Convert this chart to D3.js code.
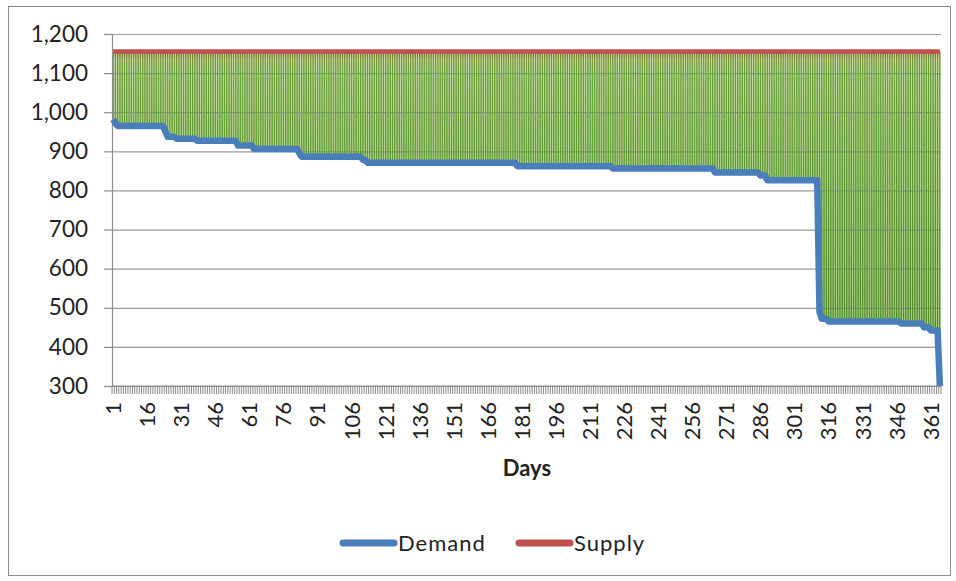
<!DOCTYPE html>
<html>
<head>
<meta charset="utf-8">
<script src="https://cdn.jsdelivr.net/npm/d3@7/dist/d3.min.js"></script>
<style>
  html, body { margin: 0; padding: 0; background: #fff; }
  svg { display: block; }
  text { font-family: Lato, "Open Sans", "Liberation Sans", sans-serif; fill: #222; }
</style>
</head>
<body>
<svg id="chart" width="956" height="581"></svg>
<script>
// Daily demand as a load-duration curve: each level holds for a run of days.
const demandLevels  = [982, 972, 965, 950, 937, 932, 927, 915, 906, 895, 886, 878, 871, 862, 856, 846, 838, 826, 490, 472, 465, 460, 450, 442, 300];
const demandRunDays = [1,   1,   21,  1,   4,   9,   18,  7,   20,  1,   27,  2,   66,  42,  45,  20,  3,   23,  1,   3,   32,  10,  3,   4,   1];
// Supply is flat across the year.
const supplyLevel = 1155;
// Axis labels
const yTicks = [300, 400, 500, 600, 700, 800, 900, 1000, 1100, 1200];
const xTickLabels = [1, 16, 31, 46, 61, 76, 91, 106, 121, 136, 151, 166, 181, 196, 211, 226, 241, 256, 271, 286, 301, 316, 331, 346, 361];
const seriesNames = ["Demand", "Supply"];

// Expand the runs into one value per day
const demand = [];
demandLevels.forEach((v, i) => { for (let k = 0; k < demandRunDays[i]; k++) demand.push(v); });
const days = demand.map((_, i) => i + 1);
const rows = days.map((d, i) => ({ day: d, demand: demand[i], supply: supplyLevel }));

const svg = d3.select("#chart");
const plot = { left: 112, right: 941, top: 34, bottom: 386 };

// chart frame
svg.append("rect").attr("x", 8.5).attr("y", 6.5).attr("width", 942).attr("height", 569)
  .attr("fill", "#fff").attr("stroke", "#8c8c8c").attr("stroke-width", 1);

const x = d3.scaleBand().domain(days).range([plot.left, plot.right]).padding(0);
const cx = d => x(d) + x.bandwidth() / 2;
const y = d3.scaleLinear().domain([300, 1200]).range([plot.bottom, plot.top]);

const defs = svg.append("defs");
const lineGrad = defs.append("linearGradient").attr("id", "hlGrad")
  .attr("gradientUnits", "userSpaceOnUse").attr("x1", 0).attr("x2", 0)
  .attr("y1", y(supplyLevel)).attr("y2", y(300));
[[0, "#6e6a30"], [0.025, "#7a9a3c"], [0.06, "#6aa03a"], [0.4, "#5e9832"], [1, "#4c8a28"]]
  .forEach(([o, c]) => lineGrad.append("stop").attr("offset", o).attr("stop-color", c));
const gapGrad = defs.append("linearGradient").attr("id", "gapGrad")
  .attr("gradientUnits", "userSpaceOnUse").attr("x1", 0).attr("x2", 0)
  .attr("y1", y(supplyLevel)).attr("y2", y(300));
[[0, "#eadcb2"], [0.03, "#d6e8bc"], [0.2, "#c8e0a8"], [1, "#b8d596"]]
  .forEach(([o, c]) => gapGrad.append("stop").attr("offset", o).attr("stop-color", c));

// pale band between the two series
svg.append("path").datum(rows)
  .attr("fill", "url(#gapGrad)")
  .attr("d", d3.area().x(d => cx(d.day)).y0(d => y(d.demand)).y1(d => y(d.supply)));

// horizontal gridlines
svg.append("g")
  .attr("transform", `translate(${plot.left},0)`)
  .call(d3.axisLeft(y).tickValues(yTicks).tickSize(-(plot.right - plot.left)).tickFormat(""))
  .call(g => g.select(".domain").remove())
  .call(g => g.selectAll("line").attr("stroke", "#9a9a9a").attr("stroke-width", 1.2));

// high-low lines from demand up to supply for each day
svg.append("g").selectAll("line").data(rows).join("line")
  .attr("x1", d => cx(d.day)).attr("x2", d => cx(d.day))
  .attr("y1", d => y(d.supply)).attr("y2", d => y(d.demand))
  .attr("stroke", "url(#hlGrad)").attr("stroke-width", 1.45);

// y axis with labels
svg.append("g")
  .attr("transform", `translate(${plot.left},0)`)
  .call(d3.axisLeft(y).tickValues(yTicks).tickSize(8).tickPadding(16).tickFormat(d3.format(",")))
  .call(g => g.select(".domain").attr("stroke", "#8c8c8c").attr("stroke-width", 1.2))
  .call(g => g.selectAll(".tick line").attr("stroke", "#8c8c8c").attr("stroke-width", 1.2))
  .call(g => g.selectAll("text").style("font-size", "22.5px").attr("fill", "#222"));

// x axis line and a tick between every category
svg.append("line").attr("x1", plot.left).attr("x2", plot.right)
  .attr("y1", plot.bottom).attr("y2", plot.bottom).attr("stroke", "#8c8c8c").attr("stroke-width", 1.2);
svg.append("g").selectAll("line").data(days.concat([days.length + 1])).join("line")
  .attr("x1", d => d <= days.length ? x(d) : plot.right)
  .attr("x2", d => d <= days.length ? x(d) : plot.right)
  .attr("y1", plot.bottom).attr("y2", plot.bottom + 8)
  .attr("stroke", "#8c8c8c").attr("stroke-width", 1);

svg.append("g").selectAll("text").data(xTickLabels).join("text")
  .attr("transform", d => `translate(${cx(d)},${plot.bottom + 16}) rotate(-90)`)
  .attr("text-anchor", "end").attr("dy", "0.36em")
  .style("font-size", "22px")
  .text(d => d);

svg.append("text").attr("x", 527).attr("y", 476).attr("text-anchor", "middle")
  .style("font-size", "22px").style("font-weight", "bold").text("Days");

// supply and demand lines
const line = key => d3.line().x(d => cx(d.day)).y(d => y(d[key]));
svg.append("path").datum(rows).attr("fill", "none")
  .attr("stroke", "#c0504d").attr("stroke-width", 4.5).attr("d", line("supply"));
svg.append("path").datum(rows).attr("fill", "none")
  .attr("stroke", "#4a7ebb").attr("stroke-width", 6.5).attr("stroke-linejoin", "round")
  .attr("d", line("demand"));

// legend
const legend = [
  { name: seriesNames[0], color: "#4a7ebb", x: 340 },
  { name: seriesNames[1], color: "#c0504d", x: 516 }
];
const lg = svg.append("g").selectAll("g").data(legend).join("g")
  .attr("transform", d => `translate(${d.x},543)`);
lg.append("line").attr("x1", 3).attr("x2", 54).attr("y1", 0).attr("y2", 0)
  .attr("stroke", d => d.color).attr("stroke-width", 7).attr("stroke-linecap", "round");
lg.append("text").attr("x", 58).attr("dy", "0.35em").style("font-size", "22px")
  .style("letter-spacing", "1px").text(d => d.name);
</script>
</body>
</html>
